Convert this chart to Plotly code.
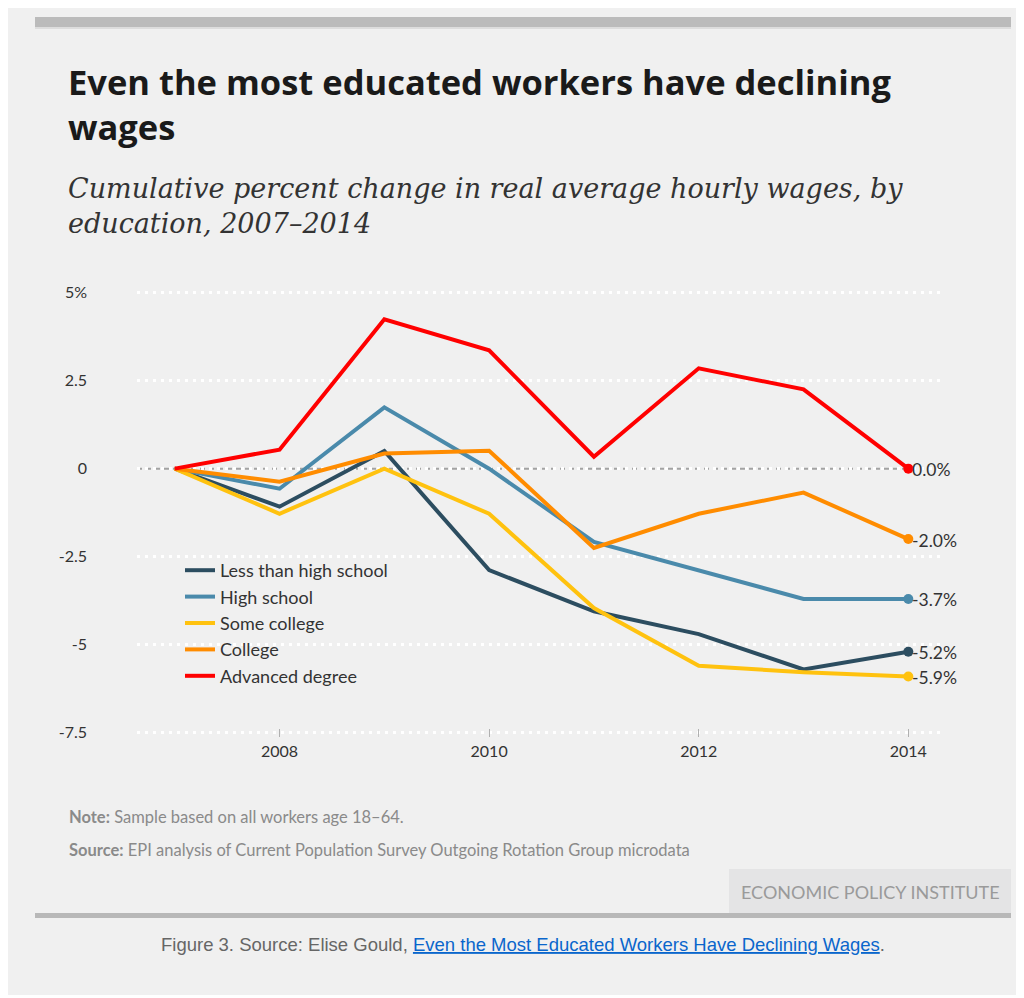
import plotly.graph_objects as go

# ---------------- data ----------------
years = [2007, 2008, 2009, 2010, 2011, 2012, 2013, 2014]
series_names = ["Less than high school", "High school", "Some college", "College", "Advanced degree"]
less_than_hs = [0.0, -1.08, 0.50, -2.88, -4.05, -4.70, -5.70, -5.2]
high_school = [0.0, -0.57, 1.74, 0.00, -2.08, -2.90, -3.70, -3.7]
some_college = [0.0, -1.28, 0.00, -1.28, -3.96, -5.60, -5.78, -5.9]
college = [0.0, -0.37, 0.43, 0.51, -2.25, -1.28, -0.68, -2.0]
advanced = [0.0, 0.54, 4.24, 3.36, 0.34, 2.85, 2.25, 0.0]
y_tickvals = [5, 2.5, 0, -2.5, -5, -7.5]
y_ticktext = ["5%", "2.5", "0", "-2.5", "-5", "-7.5"]
x_tickvals = [2008, 2010, 2012, 2014]

colors = ["#2c4d60", "#4a8aab", "#ffc20f", "#ff8c00", "#ff0000"]
all_series = [less_than_hs, high_school, some_college, college, advanced]

# ---------------- layout geometry (reference pixel coords, page offset 8px) ----------------
OFF = 8
W, H = 1024 - OFF, 998 - OFF
L, R = 137 - OFF, 945 - OFF
T, B = 282 - OFF, 737 - OFF
PW, PH = R - L, B - T


def px(x):
    return (x - OFF - L) / PW


def py(y):
    return (B - (y - OFF)) / PH


fig = go.Figure()
for name, vals, col in zip(series_names, all_series, colors):
    fig.add_trace(go.Scatter(
        x=years, y=vals, name=name, mode="lines",
        line=dict(color=col, width=4),
        hoverinfo="x+y+name",
    ))
for name, vals, col in zip(series_names, all_series, colors):
    fig.add_trace(go.Scatter(
        x=years[-1:], y=vals[-1:], name=name, mode="markers",
        marker=dict(size=10, color=col), showlegend=False,
        hoverinfo="skip",
    ))

annotations = []
# end labels
for vals, col in zip(all_series, colors):
    annotations.append(dict(
        x=years[-1], y=vals[-1], xref="x", yref="y",
        text=f"{vals[-1]:.1f}%", showarrow=False, xanchor="left", yanchor="middle",
        xshift=2, yshift=-1, font=dict(family="Lato", size=17.5, color="#333333"),
    ))

# titles
title_font = dict(family="Open Sans", size=34.5, color="#1a1a1a")
sub_font = dict(family="DejaVu Serif", size=27, color="#333333")
foot_font = dict(family="Lato", size=16.5, color="#8a8a8a")
annotations += [
    dict(x=px(66), y=py(104), xref="paper", yref="paper",
         text="<b>Even the most educated workers have declining<br>wages</b>",
         showarrow=False, xanchor="left", yanchor="middle", align="left", font=title_font),
    dict(x=px(66), y=py(206), xref="paper", yref="paper",
         text="<i>Cumulative percent change in real average hourly wages, by<br>education, 2007–2014</i>",
         showarrow=False, xanchor="left", yanchor="middle", align="left", font=sub_font),
    dict(x=px(67), y=py(817), xref="paper", yref="paper",
         text="<b>Note:</b> Sample based on all workers age 18–64.",
         showarrow=False, xanchor="left", yanchor="middle", font=foot_font),
    dict(x=px(67), y=py(850), xref="paper", yref="paper",
         text="<b>Source:</b> EPI analysis of Current Population Survey Outgoing Rotation Group microdata",
         showarrow=False, xanchor="left", yanchor="middle", font=foot_font),
    dict(x=px(870), y=py(892), xref="paper", yref="paper",
         text="ECONOMIC POLICY INSTITUTE",
         showarrow=False, xanchor="center", yanchor="middle",
         font=dict(family="Lato", size=18, color="#9a9a9a")),
    dict(x=px(523), y=py(944), xref="paper", yref="paper",
         text="Figure 3. Source: Elise Gould, "
              "<a href='https://www.epi.org/publication/even-the-most-educated-workers-have-declining-wages/' "
              "style='color:#0a66cc;text-decoration:underline'>Even the Most Educated Workers Have Declining Wages</a>.",
         showarrow=False, xanchor="center", yanchor="middle",
         font=dict(family="Liberation Sans", size=18.5, color="#666666")),
]

shapes = [
    # outer grey box
    dict(type="rect", xref="paper", yref="paper", x0=px(7), x1=px(1021), y0=py(5), y1=py(995),
         fillcolor="#f0f0f0", line=dict(width=0), layer="below"),
    # top bar
    dict(type="rect", xref="paper", yref="paper", x0=px(35), x1=px(1011), y0=py(17), y1=py(27),
         fillcolor="#bbbbbb", line=dict(width=0), layer="below"),
    dict(type="rect", xref="paper", yref="paper", x0=px(35), x1=px(1011), y0=py(27), y1=py(29),
         fillcolor="#dddddd", line=dict(width=0), layer="below"),
    # EPI box
    dict(type="rect", xref="paper", yref="paper", x0=px(729), x1=px(1011), y0=py(869), y1=py(913),
         fillcolor="#e4e4e5", line=dict(width=0), layer="below"),
    # bottom bar
    dict(type="rect", xref="paper", yref="paper", x0=px(35), x1=px(1011), y0=py(913), y1=py(918),
         fillcolor="#b8b8b8", line=dict(width=0), layer="below"),
    # zero line
    dict(type="line", xref="paper", yref="y", x0=0, x1=px(906), y0=0, y1=0,
         line=dict(color="#a3a3a3", width=2, dash="5px,4px"), layer="between"),
]

fig.update_layout(
    width=W, height=H,
    margin=dict(l=L, r=W - R, t=T, b=H - B, pad=0),
    paper_bgcolor="white",
    plot_bgcolor="rgba(0,0,0,0)",
    showlegend=True,
    legend=dict(x=px(180), y=py(552), xanchor="left", yanchor="top",
                bgcolor="rgba(0,0,0,0)", font=dict(family="Lato", size=18, color="#333333"),
                itemwidth=30, tracegroupgap=0),
    xaxis=dict(range=[2006.64, 2014.35], tickvals=x_tickvals, showgrid=False, zeroline=False,
               showline=False, ticks="inside", ticklen=8, tickcolor="#b0b0b0", tickwidth=1,
               tickfont=dict(family="Lato", size=16, color="#333333"), ticklabelstandoff=3),
    yaxis=dict(range=[-7.62, 5.3], tickvals=y_tickvals, ticktext=y_ticktext,
               showgrid=True, gridcolor="white", gridwidth=3, griddash="3px,5px",
               zeroline=False, showline=False, ticks="",
               tickfont=dict(family="Lato", size=16, color="#333333"), ticklabelstandoff=49),
    annotations=annotations,
    shapes=shapes,
)

fig.write_html("out.html")
